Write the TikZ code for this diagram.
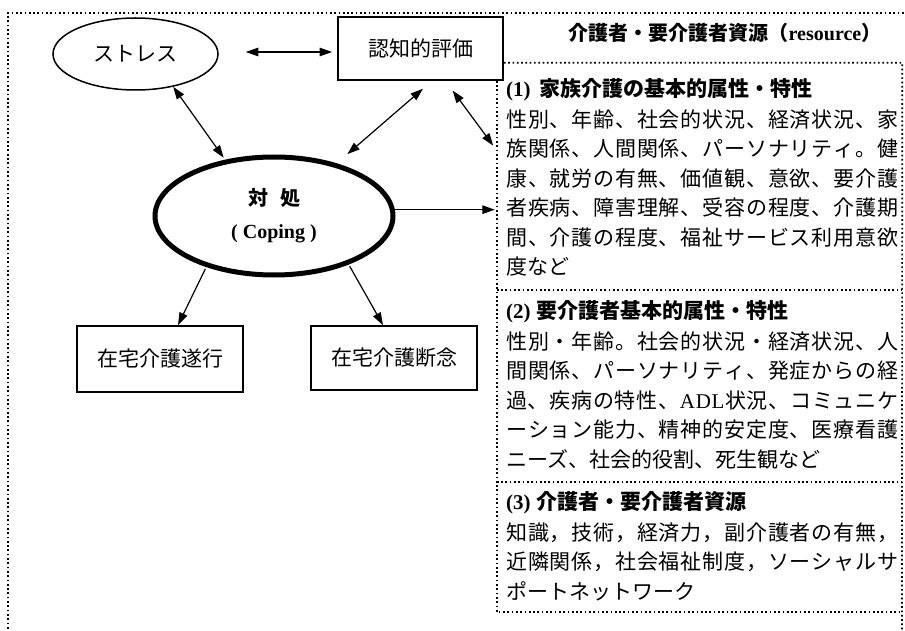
\documentclass[tikz,border=0pt]{standalone}
\usepackage{fontspec}
\setmainfont{Liberation Serif}
\newfontfamily\cjk{Noto Sans CJK JP}
\usetikzlibrary{arrows.meta,shapes.geometric,fit}
\ExplSyntaxOn
\NewDocumentCommand\sprline{m}{\makebox[392pt][s]{\tl_map_inline:nn{#1}{{##1}\hfill}\unskip}}
\ExplSyntaxOff
\begin{document}
\begin{tikzpicture}[x=1pt,y=-1pt,
  dotline/.style={line width=1.7pt,dash pattern=on 1.7pt off 2.6pt},
  myhead/.tip={Triangle[length=12.5pt,width=8.5pt]},
  arr/.style={-myhead, line width=1.2pt},
  dbl/.style={myhead-myhead, line width=1.2pt},
  lbl/.style={font=\cjk\fontsize{21}{24}\selectfont},
  body/.style={anchor=west, inner sep=0pt, font=\cjk\fontsize{21}{24}\selectfont},
  hd/.style={body, font=\cjk\bfseries\fontsize{21}{24}\selectfont},
  boxnode/.style={draw, line width=1.8pt, inner sep=0pt, lbl},
]
\useasboundingbox (0,0) rectangle (905,631);
\clip (0,0) rectangle (905,631);
% outer frame
\draw[dotline] (8,650) -- (8,13) -- (920,13);
% panel sections
\node[fit={(497,63) (902,290)}, inner sep=0pt] (sec1) {};
\node[fit={(497,290) (902,482)}, inner sep=0pt] (sec2) {};
\node[fit={(497,482) (902,612)}, inner sep=0pt] (sec3) {};
% nodes
\node[ellipse, draw, line width=1.5pt, minimum width=165pt, minimum height=72pt, inner sep=0pt, lbl] (stress) at (135.5,54) {ストレス};
\node[boxnode, fill=white, minimum width=165pt, minimum height=63pt] (cog) at (420.5,48.5) {認知的評価};
\node[ellipse, draw, line width=5pt, minimum width=238pt, minimum height=118pt, inner sep=0pt, align=center, font=\bfseries\fontsize{20}{33}\selectfont] (coping) at (274,216) {{\cjk 対\hspace{0.6em}処}\\{\rmfamily( Coping )}};
\node[boxnode, minimum width=166pt, minimum height=66pt] (home1) at (160,359) {在宅介護遂行};
\node[boxnode, minimum width=166pt, minimum height=64pt] (home2) at (394,358) {在宅介護断念};
% panel lines
\draw[dotline] (cog.east |- sec1.north) -- (sec1.north east) -- (902,650);
\draw[dotline] (cog.south -| sec1.west) -- (sec3.south west) -- (sec3.south east);
\draw[dotline] (sec1.south west) -- (sec1.south east);
\draw[dotline] (sec2.south west) -- (sec2.south east);
% title
\node[font=\cjk\bfseries\fontsize{20}{24}\selectfont] (title) at (725,33) {介護者・要介護者資源（{\rmfamily resource}）};
% section 1
\node[hd] (h1) at (506,90) {{\rmfamily (1)}\hspace{0.4em}家族介護の基本的属性・特性};
\node[body] (a1) at (506,119.5) {\sprline{性別、年齢、社会的状況、経済状況、家}};
\node[body] (a2) at (506,149) {\sprline{族関係、人間関係、パーソナリティ。健}};
\node[body] (a3) at (506,178.5) {\sprline{康、就労の有無、価値観、意欲、要介護}};
\node[body] (a4) at (506,208) {\sprline{者疾病、障害理解、受容の程度、介護期}};
\node[body] (a5) at (506,237.5) {\sprline{間、介護の程度、福祉サービス利用意欲}};
\node[body] (a6) at (506,267) {度など};
% section 2
\node[hd] (h2) at (506,312) {{\rmfamily (2)}\hspace{0.3em}要介護者基本的属性・特性};
\node[body] (b1) at (506,341.5) {\sprline{性別・年齢。社会的状況・経済状況、人}};
\node[body] (b2) at (506,371) {\sprline{間関係、パーソナリティ、発症からの経}};
\node[body] (b3) at (506,400.5) {\sprline{過、疾病の特性、{\rmfamily A}{\rmfamily D}{\rmfamily L}状況、コミュニケ}};
\node[body] (b4) at (506,430) {\sprline{ーション能力、精神的安定度、医療看護}};
\node[body] (b5) at (506,459.5) {ニーズ、社会的役割、死生観など};
% section 3
\node[hd] (h3) at (506,503) {{\rmfamily (3)}\hspace{0.3em}介護者・要介護者資源};
\node[body] (c1) at (506,532.5) {\sprline{知識，技術，経済力，副介護者の有無，}};
\node[body] (c2) at (506,562) {\sprline{近隣関係，社会福祉制度，ソーシャルサ}};
\node[body] (c3) at (506,591.5) {ポートネットワーク};
% connectors
\draw[dbl, shorten <=27pt, shorten >=5pt] ([yshift=2pt]stress.east) -- ([yshift=-3.5pt]cog.west);
\draw[dbl, shorten >=2.5pt] (stress.-41) -- (coping.131);
\draw[dbl, shorten <=12pt, shorten >=14pt] ([xshift=11.5pt]cog.south) -- (coping.40);
\draw[dbl, shorten <=12pt, shorten >=6pt] ([xshift=25pt]cog.south) -- ([yshift=26pt]sec1.west);
\draw[arr, shorten >=2pt] (coping.3) -- (coping.3 -| sec1.west);
\draw[arr, shorten <=2pt] (coping.-143) -- ([xshift=18pt]home1.north);
\draw[arr, shorten <=2pt] (coping.-33) -- ([xshift=-11pt]home2.north);
\end{tikzpicture}
\end{document}
